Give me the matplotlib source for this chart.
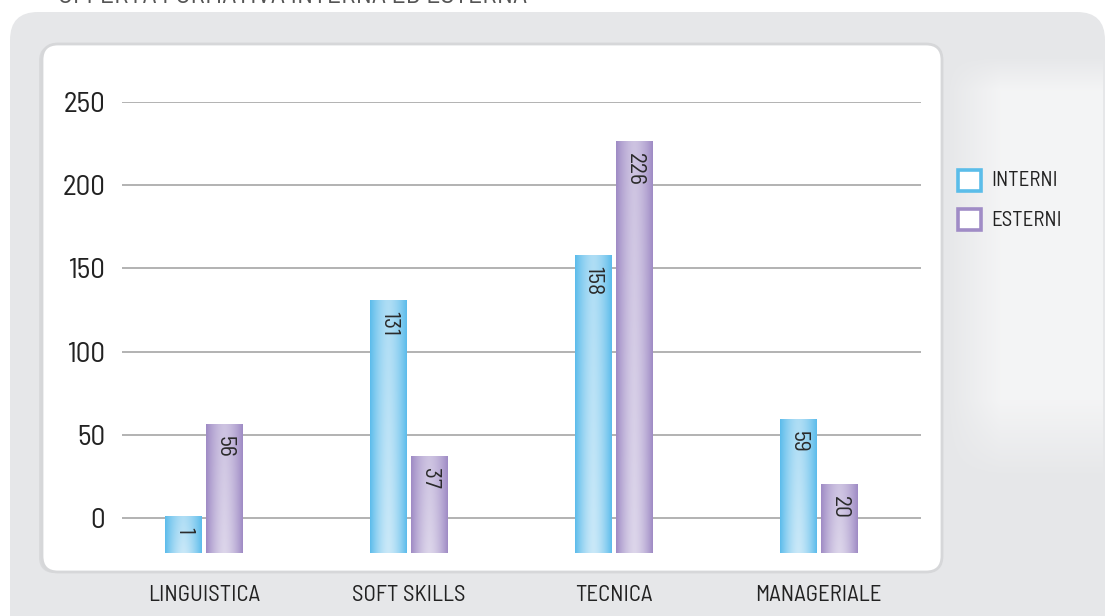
import numpy as np
import matplotlib
matplotlib.use("Agg")
import matplotlib.pyplot as plt
from matplotlib import font_manager
from matplotlib.patches import FancyBboxPatch, Rectangle

# ---- data ----
categories = ["LINGUISTICA", "SOFT SKILLS", "TECNICA", "MANAGERIALE"]
series_names = ["INTERNI", "ESTERNI"]
interni = [1, 131, 158, 59]
esterni = [56, 37, 226, 20]
y_ticks = [0, 50, 100, 150, 200, 250]
title = "OFFERTA FORMATIVA INTERNA ED ESTERNA"

# ---- style ----
available = {f.name for f in font_manager.fontManager.ttflist}
FONT = next((f for f in ["Barlow Semi Condensed", "Roboto Condensed",
                         "IBM Plex Sans Condensed", "Open Sans Condensed"]
             if f in available), "DejaVu Sans")
plt.rcParams["font.family"] = [FONT, "DejaVu Sans"]

W, H = 1109, 616
fig = plt.figure(figsize=(W / 100, H / 100), dpi=100, facecolor="white")

# background panels drawn in pixel coordinates
bg = fig.add_axes([0, 0, 1, 1], zorder=-10)
bg.set_xlim(0, W)
bg.set_ylim(H, 0)
bg.axis("off")

bg.add_patch(FancyBboxPatch((10, 12), 1095, 800,
                            boxstyle="round,pad=0,rounding_size=28",
                            facecolor="#e6e7e9", edgecolor="none"))
# soft light area on the right side of the panel
n = 300
gx = np.linspace(0, 1, n)
gy = np.linspace(0, 1, n)
GX, GY = np.meshgrid(gx, gy)
ypix = 40 + GY * 480
horiz = np.clip(GX / 0.35, 0, 1)
vert = np.clip((ypix - 55) / 35, 0, 1) * np.clip((480 - ypix) / 80, 0, 1)
glow = np.ones((n, n, 4))
glow[..., 3] = 0.55 * horiz * vert
bg.imshow(glow, extent=(945, 1103, 520, 40), aspect="auto", zorder=1)

# inner white card with a faint shadow on its left edge
bg.add_patch(FancyBboxPatch((39, 45), 901, 528,
                            boxstyle="round,pad=0,rounding_size=16",
                            facecolor="#d9dadc", edgecolor="none", zorder=2))
bg.add_patch(FancyBboxPatch((42, 44), 900, 528,
                            boxstyle="round,pad=0,rounding_size=16",
                            facecolor="white", edgecolor="#d6d7d9", lw=2.0, zorder=2))

# heading at the very top (mostly above the canvas edge)
bg.text(58, 3, title, fontsize=20, color="#555555", ha="left", va="baseline",
        zorder=3)

# legend
blue_edge = "#5bbde9"
purple_edge = "#a08cc6"
for i, (name, col) in enumerate(zip(series_names, [blue_edge, purple_edge])):
    y0 = 170 + i * 39
    bg.add_patch(Rectangle((958, y0), 23, 21, facecolor="white", edgecolor=col,
                           lw=2.6, zorder=3))
    bg.text(991, y0 + 11, name, fontsize=15, color="#222222", va="center",
            ha="left", zorder=3)

# ---- main chart ----
ax_left, ax_right = 122 / W, 921 / W
ax_bot, ax_top = (H - 553) / H, (H - 102) / H
ax = fig.add_axes([ax_left, ax_bot, ax_right - ax_left, ax_top - ax_bot])
ax.patch.set_alpha(0)
for s in ax.spines.values():
    s.set_visible(False)

ymin = -21
x = np.arange(len(categories))
bw = 0.176
off = 0.1


def gradient(edge, center, n=64):
    t = np.linspace(0, 1, n)
    prof = 1 - np.abs(2 * t - 1) ** 1.6
    v = np.linspace(0, 1, n)[:, None]
    e = np.array(matplotlib.colors.to_rgb(edge))
    c = np.array(matplotlib.colors.to_rgb(center))
    img = e + (c - e) * prof[None, :, None] * (0.75 + 0.25 * v[..., None])
    return np.clip(img, 0, 1)


grad_blue = gradient("#5cbceb", "#c9e8f8")
grad_purple = gradient("#9f8bc5", "#dcd5ea")

for vals, dx, grad in [(interni, -off, grad_blue), (esterni, off, grad_purple)]:
    for xi, v in zip(x, vals):
        x0, x1 = xi + dx - bw / 2, xi + dx + bw / 2
        ax.imshow(grad, extent=(x0, x1, ymin, v), aspect="auto", zorder=3,
                  origin="upper")
        ax.annotate(str(v), (xi + dx, v), xytext=(0, -8), textcoords="offset points",
                    rotation=270, ha="center", va="top", fontsize=17,
                    color="#2a2a2a", zorder=4)

ax.set_xlim(-0.4, 3.5)
ax.set_ylim(ymin, 250)
ax.set_yticks(y_ticks)
ax.set_yticklabels([str(t) for t in y_ticks], fontsize=21, color="#222222")
ax.set_xticks(x)
ax.set_xticklabels(categories, fontsize=16.5, color="#222222")
ax.tick_params(axis="y", length=0, pad=12)
ax.tick_params(axis="x", length=0, pad=23)
ax.yaxis.grid(True, color="#a5a5a5", lw=1.2, zorder=1)
ax.set_axisbelow(True)

fig.savefig("out.png", dpi=100)
